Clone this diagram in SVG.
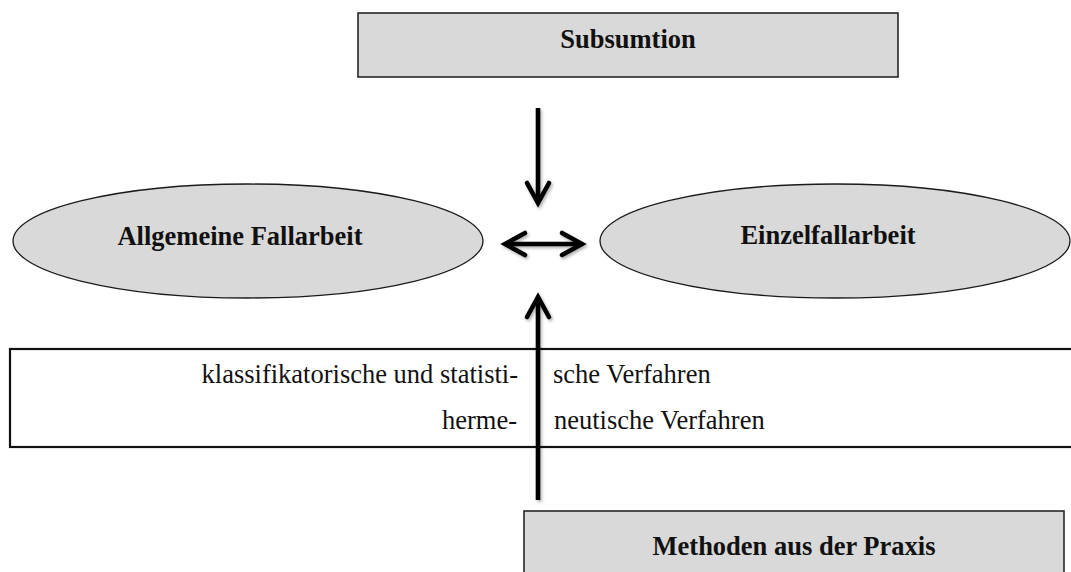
<svg xmlns="http://www.w3.org/2000/svg" width="1071" height="572" viewBox="0 0 1071 572">
  <style>
    .box { fill: #d9d9d9; stroke: #262626; stroke-width: 1.6; }
    .oval { fill: #d9d9d9; stroke: #1a1a1a; stroke-width: 1.3; }
    .table { fill: #ffffff; stroke: #111111; stroke-width: 2.2; }
    .title { font-family: "Liberation Serif", "Times New Roman", serif; font-weight: bold; font-size: 26.5px; fill: #111111; text-anchor: middle; }
    .body { font-family: "Liberation Serif", "Times New Roman", serif; font-size: 26.5px; fill: #111111; }
    .arrow { fill: none; stroke: #000000; stroke-width: 4.6; }
  </style>
  <defs>
    <marker id="chevron" markerUnits="userSpaceOnUse" viewBox="-30 -16 40 32" markerWidth="40" markerHeight="32" refX="0" refY="0" orient="auto-start-reverse" overflow="visible">
      <path d="M -20 -11 L 0 0 L -20 11" fill="none" stroke="#000000" stroke-width="4.6" stroke-linejoin="miter" stroke-linecap="round"/>
    </marker>
    <filter id="soft" x="-50%" y="-10%" width="200%" height="120%">
      <feDropShadow dx="1.5" dy="2" stdDeviation="1.5" flood-color="#000000" flood-opacity="0.3"/>
    </filter>
  </defs>

  <g id="subsumtion">
    <rect class="box" x="358" y="13" width="540" height="64"/>
    <text class="title" x="628" y="48">Subsumtion</text>
  </g>

  <g id="allgemeine-fallarbeit">
    <ellipse class="oval" cx="248" cy="241" rx="235" ry="57"/>
    <text class="title" x="240" y="245">Allgemeine Fallarbeit</text>
  </g>

  <g id="einzelfallarbeit">
    <ellipse class="oval" cx="835" cy="241" rx="235" ry="57"/>
    <text class="title" x="828" y="244">Einzelfallarbeit</text>
  </g>

  <g id="verfahren">
    <rect class="table" x="10" y="349" width="1070" height="98"/>
    <text class="body" x="518" y="383" text-anchor="end">klassifikatorische und statisti-</text>
    <text class="body" x="553" y="383">sche Verfahren</text>
    <text class="body" x="517" y="429" text-anchor="end">herme-</text>
    <text class="body" x="554" y="429">neutische Verfahren</text>
  </g>

  <g id="methoden-aus-der-praxis">
    <rect class="box" x="524" y="511" width="540" height="80"/>
    <text class="title" x="794" y="555">Methoden aus der Praxis</text>
  </g>

  <g id="connectors" filter="url(#soft)">
    <line class="arrow" x1="538" y1="108" x2="538" y2="203" marker-end="url(#chevron)"/>
    <line class="arrow" x1="505" y1="244" x2="582" y2="244" marker-start="url(#chevron)" marker-end="url(#chevron)"/>
    <line class="arrow" x1="538" y1="500" x2="538" y2="297" marker-end="url(#chevron)"/>
  </g>
</svg>
